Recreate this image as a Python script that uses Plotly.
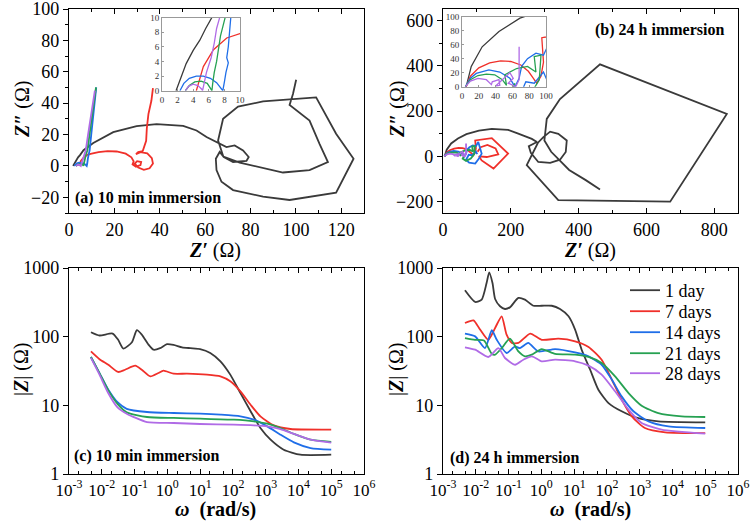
import plotly.graph_objects as go

# ---------------- data ----------------
series_names = ["1 day", "7 days", "14 days", "21 days", "28 days"]
colors = ["#3a3a3a", "#f0302a", "#1f6ee8", "#26a152", "#b06be6"]

# (a) Nyquist, 10 min immersion
a_black_x = [1.8, 2.3, 3.1, 4.0, 4.85, 5.6, 6.4, 10.7, 19.5, 29.8, 38.6, 50.3, 56.2, 60.6, 66.4, 69.4,
             73.0, 76.7, 79.2, 78.2, 72.3, 68.2, 66.4, 64.7, 65.0, 67.2, 72.3, 85.5, 97.2, 117.7, 125.4,
             117.7, 108.9, 97.2, 85.5, 74.5, 67.9, 65.7, 68.0, 75.2, 84.0, 94.3, 106.0, 114.1, 110.4,
             106.0, 97.2, 98.7, 100.1]
a_black_y = [0, 1.5, 3.7, 5.5, 6.9, 8.5, 10, 14.6, 21.5, 25.3, 26.6, 25.5, 22.6, 18.4, 14.1, 12.0,
             13.1, 9.9, 5.7, 3.2, 2.5, 5.7, 8.9, 4.6, -2.7, -10.1, -15.4, -19.6, -21.7, -17.1, 4.6,
             20.5, 43.7, 42.6, 41.1, 37.8, 30.0, 16.2, 6.0, 2.1, -0.6, -4.2, -2.7, 2.5, 14.1,
             28.9, 38.8, 45.8, 54.9]
a_red_x = [4.4, 5.3, 6.6, 8.3, 10, 13, 17, 21, 25, 27.5, 28.5, 28, 29.5, 31.5, 31.8, 30, 29, 30.5, 33,
           35.5, 37, 36.5, 34.5, 31.5, 29.5, 30.5, 32.5, 34, 34.3, 35, 36.3, 37]
a_red_y = [0, 3.3, 5.6, 7.2, 7.8, 8.8, 9.4, 9.2, 7.8, 5.5, 3, 1, -0.5, 0.5, 2.5, 3, 1.5, -1, -2.5,
           -1.5, 1.5, 5, 8, 8.8, 7.5, 8.8, 9.5, 16, 24, 33, 41.5, 49.6]
a_blue_x = [2.3, 2.8, 3.5, 4.4, 5.3, 6.2, 7.0, 7.6, 7.8, 8.0, 8.2, 8.5, 8.3, 8.5, 8.8, 9.1, 9.8, 10.6, 11.3, 12.0]
a_blue_y = [0, 1, 1.7, 2.0, 2.0, 1.7, 1.1, 0.3, 0, 1.2, 2.5, 3.8, 4.5, 6, 8, 10, 20, 30, 40, 50]
a_green_x = [3.0, 3.5, 4.2, 5.0, 5.8, 6.3, 6.4, 6.5, 6.7, 7.0, 7.2, 7.5, 8.1, 9.0, 9.9, 10.9, 11.9]
a_green_y = [0, 0.7, 1.2, 1.3, 1.0, 0.3, 0, 1, 2.5, 4, 5.5, 7.5, 10, 20, 30, 40, 50]
a_purple_x = [3.0, 3.4, 4.0, 4.6, 5.1, 5.2, 5.4, 5.7, 6.3, 6.7, 7.0, 7.4, 8.4, 9.4, 10.4, 11.4]
a_purple_y = [0, 0.6, 0.9, 0.7, 0.2, 0, 1, 2.5, 4.5, 6.5, 8.5, 10, 20, 30, 40, 48]

# (b) Nyquist, 24 h immersion
b_black_x = [5, 11, 24, 44, 69, 106, 144, 192, 220, 249, 262, 277, 253, 259, 281, 316, 345, 362, 365,
             340, 316, 296, 280, 247, 340, 670, 837, 463, 345, 306, 299, 319, 372, 421, 463]
b_black_y = [0, 29, 57, 79, 98, 113, 121, 117, 101, 86, 77, 63, 45, 15, -25, -29, -15, 19, 70,
             99, 109, 85, 60, -39, -193, -200, 187, 406, 253, 165, 70, 20, -60, -105, -146]
b_red_x = [5, 10, 20, 33, 46, 58, 70, 79, 85, 89, 94, 97, 95, 144, 192, 149, 114, 106, 129, 163, 155, 131, 111, 102]
b_red_y = [0, 15, 27, 34, 37, 36, 31, 22, 12, 5, 15, 35, 70, 80, 12, -54, -18, 0, -3, 9, 35, 50, 40, 20]
b_blue_x = [4, 10, 17, 32, 45, 57, 63, 68, 71, 78, 88, 97, 104, 108, 114, 106, 95, 77, 68, 76, 86, 97, 101]
b_blue_y = [0, 12, 19, 24, 21, 12, 0, 12, 29, 40, 48, 45, 63, 40, 12, -10, -32, -28, -15, 7, 5, 21, 10]
b_green_x = [4, 10, 19, 29, 39, 48, 53, 51, 65, 78, 88, 86, 94, 92, 82, 68, 58, 63]
b_green_y = [0, 10, 16, 18, 17, 10, 2, 17, 26, 29, 21, 43, 45, 10, -10, -20, -10, 5]
b_purple_x = [4, 10, 19, 29, 35, 36, 44, 45, 40, 51, 57, 61, 55, 64, 68, 68]
b_purple_y = [0, 8, 12, 10, 3, 7, 10, 2, 1, 14, 20, 12, 5, 0, 10, 57]

# (c) Bode |Z|, 10 min immersion  (log10 omega, |Z|)
c_black_lw = [-2.33, -2.07, -1.67, -1.50, -1.34, -1.08, -0.93, -0.78, -0.57, -0.42, -0.22, -0.01, 0.19,
              0.45, 0.70, 1.0, 1.31, 1.62, 1.92, 2.23, 2.54, 2.84, 3.15, 3.55, 4.06, 5.0]
c_black_z = [116, 104, 111, 90, 67, 83, 124, 107, 76, 64.5, 68, 78, 76, 70, 68, 66, 58, 43.7, 28, 15.1,
             8.2, 4.67, 3.16, 2.26, 1.91, 1.91]
c_red_lw = [-2.33, -2.07, -1.80, -1.50, -1.29, -0.98, -0.78, -0.52, -0.27, -0.12, 0.19, 0.60, 1.21, 1.62,
            1.92, 2.23, 2.54, 2.84, 3.25, 3.76, 5.0]
c_red_z = [61, 47, 39, 30.6, 33, 37.8, 33, 26.4, 29.6, 32, 28.9, 28.9, 28, 26.4, 22.4, 16, 10.2, 6.9,
           5.1, 4.52, 4.43]
c_blue_lw = [-2.33, -2.07, -1.80, -1.52, -1.24, -0.62, 0.19, 1.0, 1.62, 2.23, 2.64, 3.05, 3.45, 3.86, 4.37, 5.0]
c_blue_z = [50.6, 29.5, 16.9, 11.1, 8.9, 8.0, 7.73, 7.56, 7.31, 6.92, 6.18, 4.94, 3.74, 2.89, 2.39, 2.26]
c_green_lw = [-2.33, -2.07, -1.80, -1.52, -1.24, -0.62, 0.19, 1.0, 2.03, 2.64, 3.05, 3.45, 3.86, 4.37, 5.0]
c_green_z = [50.6, 29.5, 16.5, 10.5, 7.9, 6.76, 6.55, 6.4, 6.18, 5.85, 5.4, 4.67, 3.83, 3.16, 2.93]
c_purple_lw = [-2.33, -2.07, -1.80, -1.52, -1.24, -0.62, 0.19, 1.0, 2.03, 2.64, 3.05, 3.45, 3.86, 4.37, 5.0]
c_purple_z = [49, 28, 15, 9.35, 7.56, 5.7, 5.53, 5.35, 5.23, 5.11, 4.94, 4.52, 3.83, 3.16, 2.86]

# (d) Bode |Z|, 24 h immersion
d_black_lw = [-2.33, -2.02, -1.82, -1.67, -1.59, -1.49, -1.41, -1.26, -1.11, -0.96, -0.70, -0.50, -0.24,
              0.01, 0.32, 0.57, 0.83, 1.03, 1.23, 1.49, 1.74, 2.05, 2.45, 2.96, 3.57, 5.0]
d_black_z = [473, 320, 346, 605, 864, 605, 354, 277, 253, 267, 366, 346, 282, 282, 282, 253, 198, 127,
             64.6, 33, 16.9, 10.8, 8.2, 6.5, 5.85, 5.65]
d_red_lw = [-2.33, -2.07, -1.87, -1.62, -1.41, -1.21, -1.06, -0.90, -0.70, -0.34, 0.01, 0.52, 1.03, 1.44,
            1.84, 2.15, 2.45, 2.76, 3.16, 3.78, 5.0]
d_red_z = [158, 173, 127, 90, 134, 198, 107, 81, 81, 111, 90, 93.5, 85.5, 70.8, 46, 23.7, 12.1, 6.9,
           4.68, 4.05, 3.95]
d_blue_lw = [-2.33, -2.02, -1.72, -1.51, -1.36, -1.06, -0.80, -0.65, -0.40, -0.09, 0.42, 1.03, 1.44, 1.84,
             2.15, 2.45, 2.81, 3.27, 3.88, 5.0]
d_blue_z = [111, 101, 68, 124, 90, 57.8, 72, 68, 81, 61, 66, 59, 51.7, 39, 23.7, 13.5, 8.2, 5.85, 4.94, 4.68]
d_green_lw = [-2.33, -2.02, -1.75, -1.51, -1.41, -1.21, -0.96, -0.70, -0.50, -0.29, 0.01, 0.42, 1.03,
              1.44, 1.84, 2.25, 2.66, 3.06, 3.57, 4.28, 5.0]
d_green_z = [95.5, 90, 88, 56, 54.7, 68, 93.5, 61, 51.8, 54.7, 66, 56, 54.7, 50.6, 41.4, 26.4, 15.1,
             9.9, 7.7, 6.9, 6.76]
d_purple_lw = [-2.33, -2.02, -1.62, -1.31, -1.11, -0.80, -0.55, -0.29, 0.01, 0.42, 1.03, 1.44, 1.84,
               2.25, 2.66, 3.06, 3.67, 5.0]
d_purple_z = [70, 64.6, 50.6, 68, 48.9, 39, 46.2, 51.8, 43.7, 46.2, 43.7, 37.8, 28, 16, 8.65, 5.53,
              4.43, 3.86]

log_tick_vals = [1e-3, 1e-2, 1e-1, 1e0, 1e1, 1e2, 1e3, 1e4, 1e5, 1e6]
log_tick_text = ["10<sup>-3</sup>", "10<sup>-2</sup>", "10<sup>-1</sup>", "10<sup>0</sup>", "10<sup>1</sup>",
                 "10<sup>2</sup>", "10<sup>3</sup>", "10<sup>4</sup>", "10<sup>5</sup>", "10<sup>6</sup>"]
z_tick_vals = [1, 10, 100, 1000]
z_tick_text = ["1", "10", "100", "1000"]

# ---------------- figure ----------------
FONT = "Liberation Serif"
W, H = 750, 523
fig = go.Figure()

a_sets = [(a_black_x, a_black_y), (a_red_x, a_red_y), (a_blue_x, a_blue_y), (a_green_x, a_green_y), (a_purple_x, a_purple_y)]
b_sets = [(b_black_x, b_black_y), (b_red_x, b_red_y), (b_blue_x, b_blue_y), (b_green_x, b_green_y), (b_purple_x, b_purple_y)]
c_sets = [(c_black_lw, c_black_z), (c_red_lw, c_red_z), (c_blue_lw, c_blue_z), (c_green_lw, c_green_z), (c_purple_lw, c_purple_z)]
d_sets = [(d_black_lw, d_black_z), (d_red_lw, d_red_z), (d_blue_lw, d_blue_z), (d_green_lw, d_green_z), (d_purple_lw, d_purple_z)]
legend_ids = ["legend", "legend2", "legend3", "legend4", "legend5"]
legend_rows = [291, 312, 333, 354, 374]

for i in range(5):
    col = colors[i]
    ax, ay = a_sets[i]
    fig.add_trace(go.Scatter(x=ax, y=ay, mode="lines", line=dict(color=col, width=1.8), xaxis="x", yaxis="y", showlegend=False))
    fig.add_trace(go.Scatter(x=ax, y=ay, mode="lines", line=dict(color=col, width=1.3), xaxis="x5", yaxis="y5", showlegend=False))
    bx, by = b_sets[i]
    fig.add_trace(go.Scatter(x=bx, y=by, mode="lines", line=dict(color=col, width=1.8), xaxis="x2", yaxis="y2", showlegend=False))
    fig.add_trace(go.Scatter(x=bx, y=by, mode="lines", line=dict(color=col, width=1.3), xaxis="x6", yaxis="y6", showlegend=False))
    cx, cz = c_sets[i]
    fig.add_trace(go.Scatter(x=[10 ** v for v in cx], y=cz, mode="lines", line=dict(color=col, width=1.8, shape="spline", smoothing=0.6),
                             xaxis="x3", yaxis="y3", showlegend=False))
    dx, dz = d_sets[i]
    fig.add_trace(go.Scatter(x=[10 ** v for v in dx], y=dz, mode="lines", name=series_names[i], legend=legend_ids[i],
                             line=dict(color=col, width=1.8, shape="spline", smoothing=0.6),
                             xaxis="x4", yaxis="y4", showlegend=True))

tickfont = dict(family=FONT, size=18, color="black")
logfont = dict(family=FONT, size=17, color="black")
small_font = dict(family=FONT, size=9, color="#333")


def xax(domain, anchor, **kw):
    d = dict(domain=domain, anchor=anchor, showline=True, linecolor="black", linewidth=1.3, mirror="ticks",
             ticks="inside", ticklen=5, tickwidth=1, tickcolor="black", showgrid=False, zeroline=False,
             tickfont=tickfont, automargin=False, ticklabeloverflow="allow")
    d.update(kw)
    return d


def yax(domain, anchor, **kw):
    d = dict(domain=domain, anchor=anchor, showline=True, linecolor="black", linewidth=1.3, mirror=True,
             ticks="outside", ticklen=5, tickwidth=1, tickcolor="black", showgrid=False, zeroline=False,
             tickfont=tickfont, automargin=False, ticklabeloverflow="allow")
    d.update(kw)
    return d


def inset_ax(domain, anchor, rng, dt):
    return dict(domain=domain, anchor=anchor, range=rng, dtick=dt, showline=True, linecolor="#999", linewidth=1,
                mirror=True, ticks="inside", ticklen=2, tickcolor="#999", showgrid=False, zeroline=False,
                tickfont=small_font, automargin=False, ticklabeloverflow="allow")


def px(x0, x1):
    return [x0 / W, x1 / W]


def py(top, bottom):
    return [1 - bottom / H, 1 - top / H]


minor_lin = lambda dt: dict(ticks="inside", ticklen=3, dtick=dt, tickcolor="black")
minor_lin_y = lambda dt: dict(ticks="outside", ticklen=3, dtick=dt, tickcolor="black")
minor_log = dict(ticks="inside", ticklen=3, tickcolor="black")

layout_legends = {}
for i, lid in enumerate(legend_ids):
    layout_legends[lid] = dict(x=625 / W, y=1 - (legend_rows[i] - 19) / H, xanchor="left", yanchor="top",
                               bgcolor="rgba(0,0,0,0)", font=dict(family=FONT, size=18, color="black"),
                               itemwidth=30)

fig.update_layout(
    width=W, height=H, margin=dict(l=0, r=0, t=0, b=0, autoexpand=False),
    paper_bgcolor="white", plot_bgcolor="rgba(0,0,0,0)",
    font=dict(family=FONT, color="black"),
    xaxis=xax(px(69, 364), "y", range=[0, 130], dtick=20, minor=minor_lin(10)),
    yaxis=yax(py(9, 213), "x", range=[-30, 100], dtick=20, minor=minor_lin_y(10)),
    xaxis2=xax(px(443, 738), "y2", range=[0, 870], dtick=200, minor=minor_lin(100)),
    yaxis2=yax(py(9, 213), "x2", range=[-250, 650], dtick=200, minor=minor_lin_y(100)),
    xaxis3=xax(px(69, 364), "y3", type="log", range=[-3, 6], tickvals=log_tick_vals, ticktext=log_tick_text,
               minor=minor_log, tickfont=logfont),
    yaxis3=yax(py(268, 474), "x3", type="log", range=[0, 3], tickvals=z_tick_vals, ticktext=z_tick_text),
    xaxis4=xax(px(443, 738), "y4", type="log", range=[-3, 6], tickvals=log_tick_vals, ticktext=log_tick_text,
               minor=minor_log, tickfont=logfont),
    yaxis4=yax(py(268, 474), "x4", type="log", range=[0, 3], tickvals=z_tick_vals, ticktext=z_tick_text),
    xaxis5=inset_ax(px(162, 240), "y5", [0, 10], 2),
    yaxis5=inset_ax(py(17.5, 90.7), "x5", [0, 10], 2),
    xaxis6=inset_ax(px(462, 546), "y6", [0, 100], 20),
    yaxis6=inset_ax(py(16.7, 86.7), "x6", [0, 100], 20),
    **layout_legends,
)

ann = []


def label(text, x, y, xanchor="left", size=16, angle=0):
    ann.append(dict(text=text, x=x / W, y=1 - y / H, xref="paper", yref="paper", xanchor=xanchor, yanchor="middle",
                    showarrow=False, textangle=angle, font=dict(family=FONT, size=size, color="black")))


label("<b>(a) 10 min immersion</b>", 73, 198)
label("<b>(b) 24 h immersion</b>", 726, 30, xanchor="right")
label("<b>(c) 10 min immersion</b>", 72, 456)
label("<b>(d) 24 h immersion</b>", 448, 458)

label("<b><i>Z′</i></b> (Ω)", 215, 251, xanchor="center", size=20)
label("<b><i>Z′</i></b> (Ω)", 590, 251, xanchor="center", size=20)
label("<b><i>Z″</i></b> (Ω)", 22, 110, xanchor="center", size=20, angle=-90)
label("<b><i>Z″</i></b> (Ω)", 397, 110, xanchor="center", size=20, angle=-90)
label("<b><i>ω</i></b>  <b>(rad/s)</b>", 215, 509, xanchor="center", size=20)
label("<b><i>ω</i></b>  <b>(rad/s)</b>", 590, 509, xanchor="center", size=20)
label("|<b><i>Z</i></b>| (Ω)", 21, 370, xanchor="center", size=20, angle=-90)
label("|<b><i>Z</i></b>| (Ω)", 396, 370, xanchor="center", size=20, angle=-90)

fig.update_layout(annotations=ann)
fig.write_html("out.html")
